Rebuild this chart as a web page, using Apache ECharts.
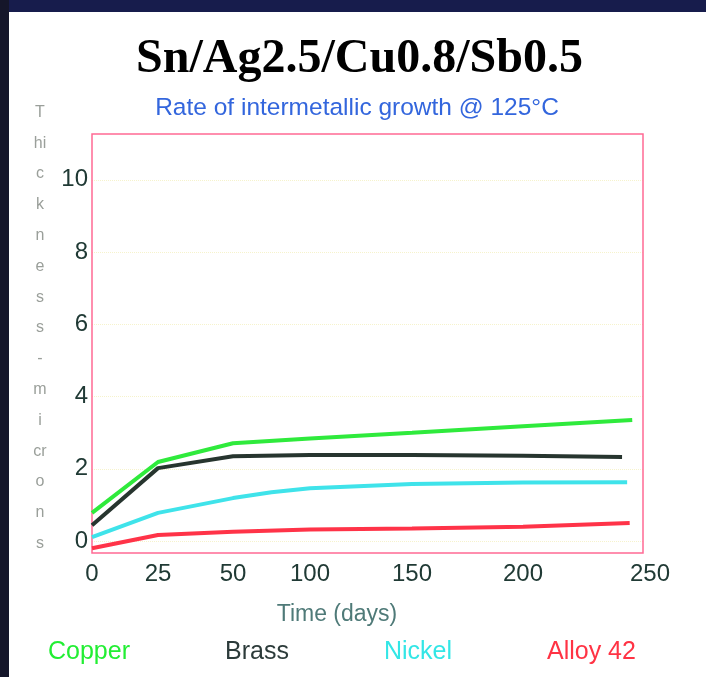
<!DOCTYPE html>
<html>
<head>
<meta charset="utf-8">
<script src="https://cdn.jsdelivr.net/npm/echarts@6/dist/echarts.min.js"></script>
<style>
html,body{margin:0;padding:0;background:#fff;}
#chart{width:706px;height:677px;}
</style>
</head>
<body>
<div id="chart"></div>
<script>
// ---- data ----
const titleText = 'Sn/Ag2.5/Cu0.8/Sb0.5';
const subtitleText = 'Rate of intermetallic growth @ 125°C';
const xAxisTitle = 'Time (days)';
const yAxisTitle = ['T','hi','c','k','n','e','s','s','-','m','i','cr','o','n','s'];
const seriesNames = ['Copper','Brass','Nickel','Alloy 42'];
const xTickDays = [0, 25, 50, 100, 150, 200, 250];
const yTickValues = [0, 2, 4, 6, 8, 10];

const copperDays = [0, 25, 50, 100, 150, 200, 243];
const copperVals = [0.78, 2.19, 2.71, 2.84, 3.0, 3.18, 3.35];
const brassDays = [0, 25, 50, 100, 150, 200, 239];
const brassVals = [0.44, 2.02, 2.35, 2.38, 2.38, 2.36, 2.33];
const nickelDays = [0, 25, 50, 75, 100, 150, 200, 241];
const nickelVals = [0.11, 0.78, 1.19, 1.35, 1.46, 1.58, 1.62, 1.63];
const alloyDays = [0, 25, 50, 100, 150, 200, 242];
const alloyVals = [-0.2, 0.17, 0.26, 0.32, 0.35, 0.40, 0.50];

// ---- layout: the original's x axis is drawn with uneven spacing between labelled days ----
const xTickSlots = [0, 66, 141, 218, 320, 431, 558];
function slotOf(day) {
  for (let i = 0; i < xTickDays.length - 1; i++) {
    const a = xTickDays[i], b = xTickDays[i + 1];
    if (day <= b) {
      const t = (day - a) / (b - a);
      return xTickSlots[i] + t * (xTickSlots[i + 1] - xTickSlots[i]);
    }
  }
  return xTickSlots[xTickSlots.length - 1];
}
function pairs(days, vals) { return days.map((d, i) => [slotOf(d), vals[i]]); }

const colors = ['#2fea3c', '#27352f', '#3fe3ea', '#ff3348'];
const legendColors = ['#22ee33', '#2c3b3a', '#33e6e6', '#ff3344'];
const sans = "'Liberation Sans', Arial, Helvetica, sans-serif";

const chart = echarts.init(document.getElementById('chart'), null, {renderer: 'canvas'});
const seriesData = [
  pairs(copperDays, copperVals),
  pairs(brassDays, brassVals),
  pairs(nickelDays, nickelVals),
  pairs(alloyDays, alloyVals)
];

chart.setOption({
  backgroundColor: '#ffffff',
  animation: false,
  title: [
    {text: titleText, left: 354.5, top: 31, textAlign: 'center',
     textStyle: {fontFamily: "'Liberation Serif', 'Times New Roman', serif", fontWeight: 'bold', fontSize: 48, color: '#000'}},
    {text: subtitleText, left: 352, top: 91, textAlign: 'center',
     textStyle: {fontFamily: sans, fontWeight: 'normal', fontSize: 24.5, color: '#3366dd'}},
    {text: xAxisTitle, left: 332, top: 598, textAlign: 'center',
     textStyle: {fontFamily: sans, fontWeight: 'normal', fontSize: 23, color: '#4f7a78'}},
    {text: yAxisTitle.join('\n'), left: 35, top: 92, textAlign: 'center',
     textStyle: {fontFamily: sans, fontWeight: 'normal', fontSize: 16, lineHeight: 30.8, color: '#9a9f9a'}}
  ],
  legend: {
    data: seriesNames.map((n, i) => ({name: n, icon: 'none', textStyle: {color: legendColors[i]}})),
    left: 38, top: 635, itemWidth: 0, itemHeight: 14, itemGap: 90,
    textStyle: {fontFamily: sans, fontSize: 25}
  },
  grid: {left: 92, right: 56, top: 134, bottom: 124, containLabel: false, outerBoundsMode: 'none'},
  xAxis: {
    type: 'value', min: 0, max: xTickSlots[xTickSlots.length - 1],
    axisLine: {show: false}, splitLine: {show: false},
    axisTick: {show: false, customValues: xTickSlots},
    axisLabel: {
      customValues: xTickSlots, margin: 9,
      fontFamily: sans, fontSize: 24, color: '#203a35',
      formatter: function (v) {
        const i = xTickSlots.findIndex(s => Math.abs(s - v) < 0.5);
        return i >= 0 ? String(xTickDays[i]) : '';
      }
    }
  },
  yAxis: {
    type: 'value', min: -0.33, max: 11.27,
    axisLine: {show: false},
    axisTick: {show: false, customValues: yTickValues},
    axisLabel: {customValues: yTickValues, margin: 4, fontFamily: sans, fontSize: 24, color: '#203a35'},
    splitLine: {show: true, lineStyle: {color: '#f6f3cc', type: 'dotted', width: 1}}
  },
  series: seriesNames.map((n, i) => ({
    name: n, type: 'line', data: seriesData[i], symbol: 'none', smooth: false,
    lineStyle: {color: colors[i], width: 4}, itemStyle: {color: colors[i]}, z: 3
  })),
  graphic: [
    {type: 'rect', shape: {x: 644, y: 130, width: 10, height: 426}, style: {fill: '#ffffff'}, z: 1},
    {type: 'rect', shape: {x: 0, y: 0, width: 706, height: 12}, style: {fill: '#171c4c'}, z: 10},
    {type: 'rect', shape: {x: 0, y: 0, width: 9, height: 677}, style: {fill: '#15162a'}, z: 10},
    {type: 'rect', shape: {x: 92, y: 134, width: 551, height: 419},
     style: {fill: 'none', stroke: '#ff6a94', lineWidth: 1.5}, z: 2}
  ]
});
</script>
</body>
</html>
